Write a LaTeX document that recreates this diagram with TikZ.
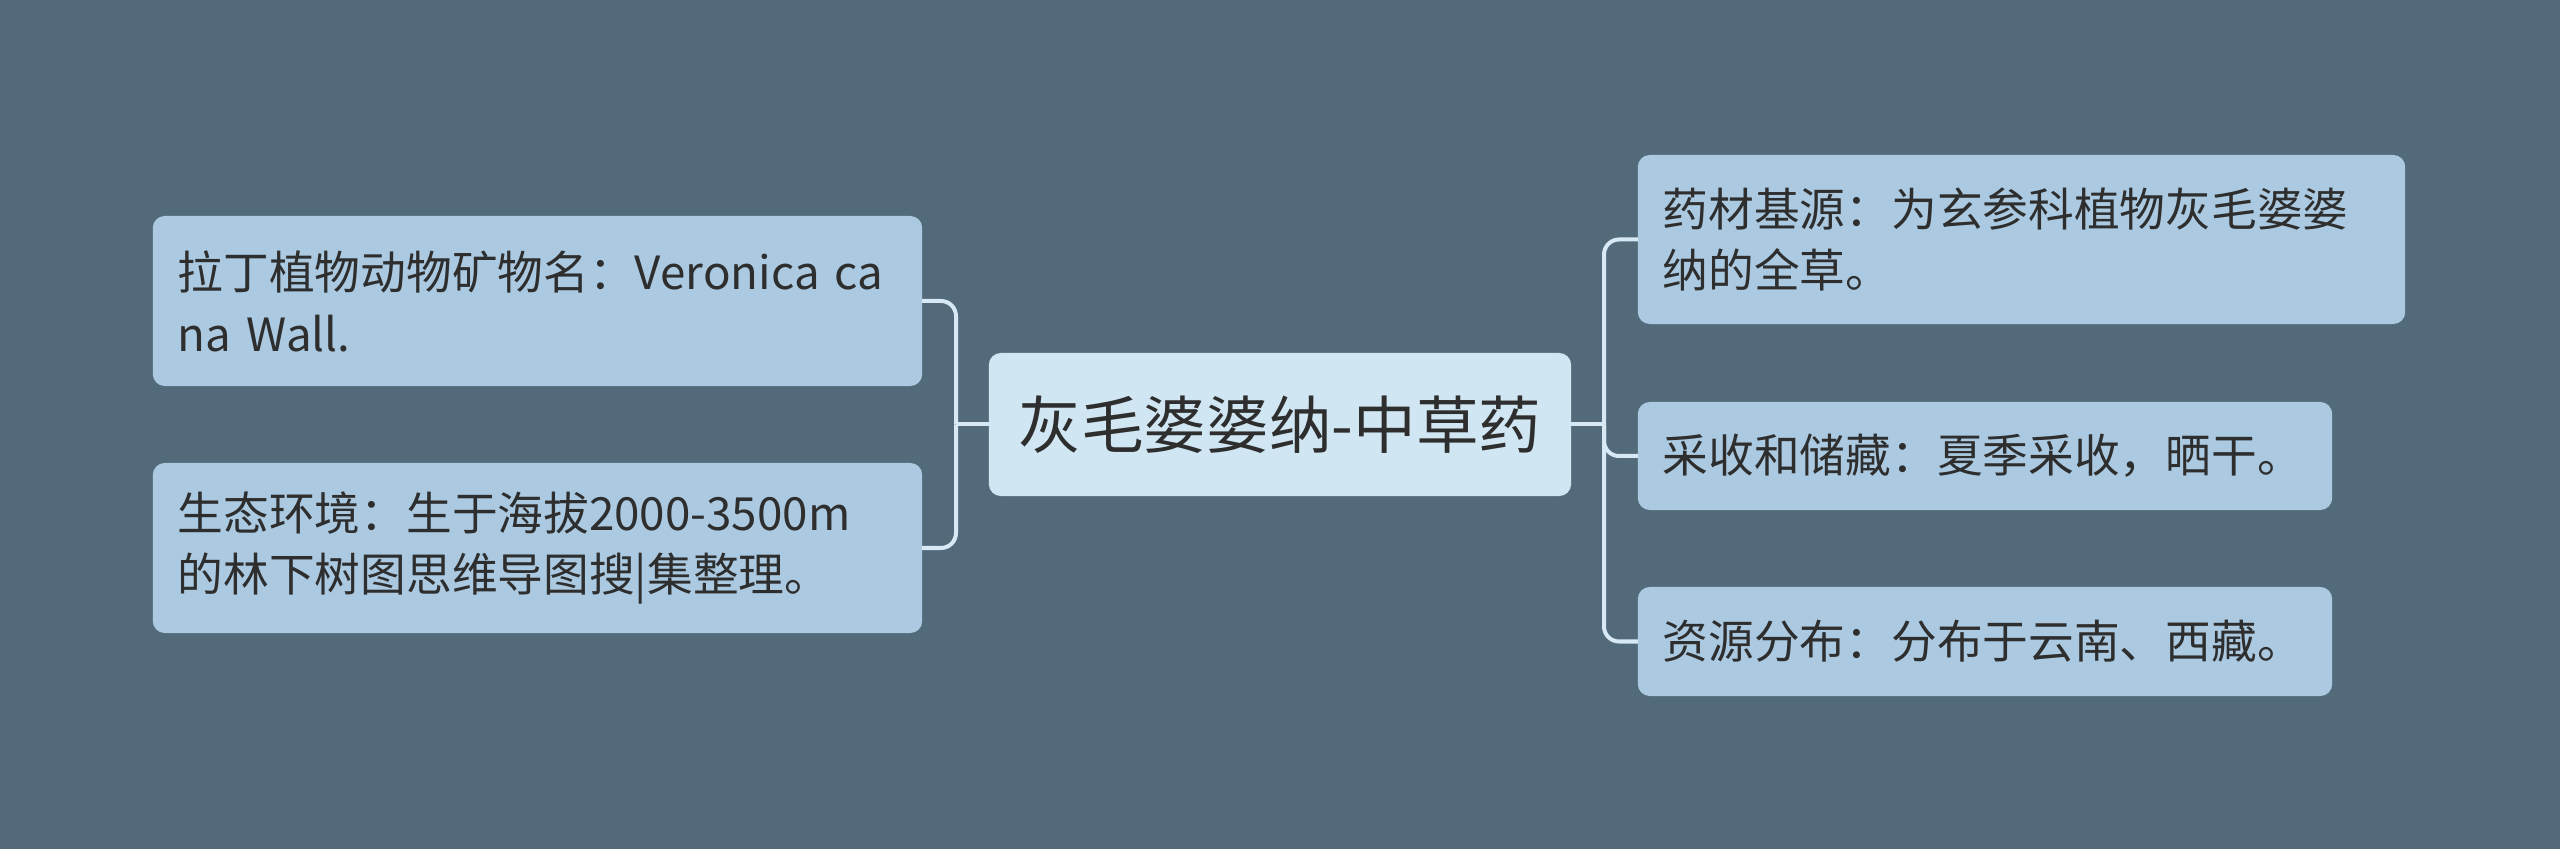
\documentclass[tikz,border=0pt]{standalone}
\usepackage{fontspec}
\setmainfont{Noto Sans CJK SC}
\definecolor{bgslate}{HTML}{526A7A}
\definecolor{leafblue}{HTML}{ABCAE1}
\definecolor{rootblue}{HTML}{D0E6F2}
\definecolor{linepale}{HTML}{D6E9F4}
\definecolor{textgrey}{HTML}{2E2E2E}
\begin{document}
\begin{tikzpicture}
	[x=0.01cm, y=-0.01cm,
	 every node/.style={inner xsep=0.25cm, inner ysep=0, outer sep=0, rounded corners=0.12cm, text=textgrey},
	 topic/.style={fill=leafblue, align=left, font=\fontsize{13}{17.6}\selectfont},
	 branch/.style={draw=linepale, line width=0.04cm, rounded corners=0.15cm}]
	\fill [bgslate] (0, 0) rectangle (2560, 849);
	\useasboundingbox (0, 0) rectangle (2560, 849);
	\node (root) [fill=rootblue, minimum width=5.82cm, minimum height=1.43cm, font=\fontsize{17.8}{21}\selectfont] at (1280, 424.5) {灰毛婆婆纳-中草药};
	\node (latin) [topic, text width=7.19cm, minimum height=1.70cm] at (537.5, 301) {拉丁植物动物矿物名：Veronica ca\\na Wall.};
	\node (habitat) [topic, text width=7.19cm, minimum height=1.70cm] at (537.5, 548) {生态环境：生于海拔2000-3500m\\的林下树图思维导图搜|集整理。};
	\node (source) [topic, text width=7.17cm, minimum height=1.69cm] at (2021.5, 239.5) {药材基源：为玄参科植物灰毛婆婆\\纳的全草。};
	\node (harvest) [topic, text width=6.44cm, minimum height=1.08cm] at (1985, 456) {采收和储藏：夏季采收，晒干。};
	\node (range) [topic, text width=6.44cm, minimum height=1.09cm] at (1985, 641.5) {资源分布：分布于云南、西藏。};
	\coordinate (lj) at (956, 424.5);
	\coordinate (rj) at (1604, 424.5);
	\draw [branch] (root.west) -- (lj);
	\draw [branch] (latin.east) -| (lj);
	\draw [branch] (habitat.east) -| (lj);
	\draw [branch] (root.east) -- (rj);
	\draw [branch] (source.west) -| (rj);
	\draw [branch] (harvest.west) -| (rj);
	\draw [branch] (range.west) -| (rj);
\end{tikzpicture}
\end{document}
